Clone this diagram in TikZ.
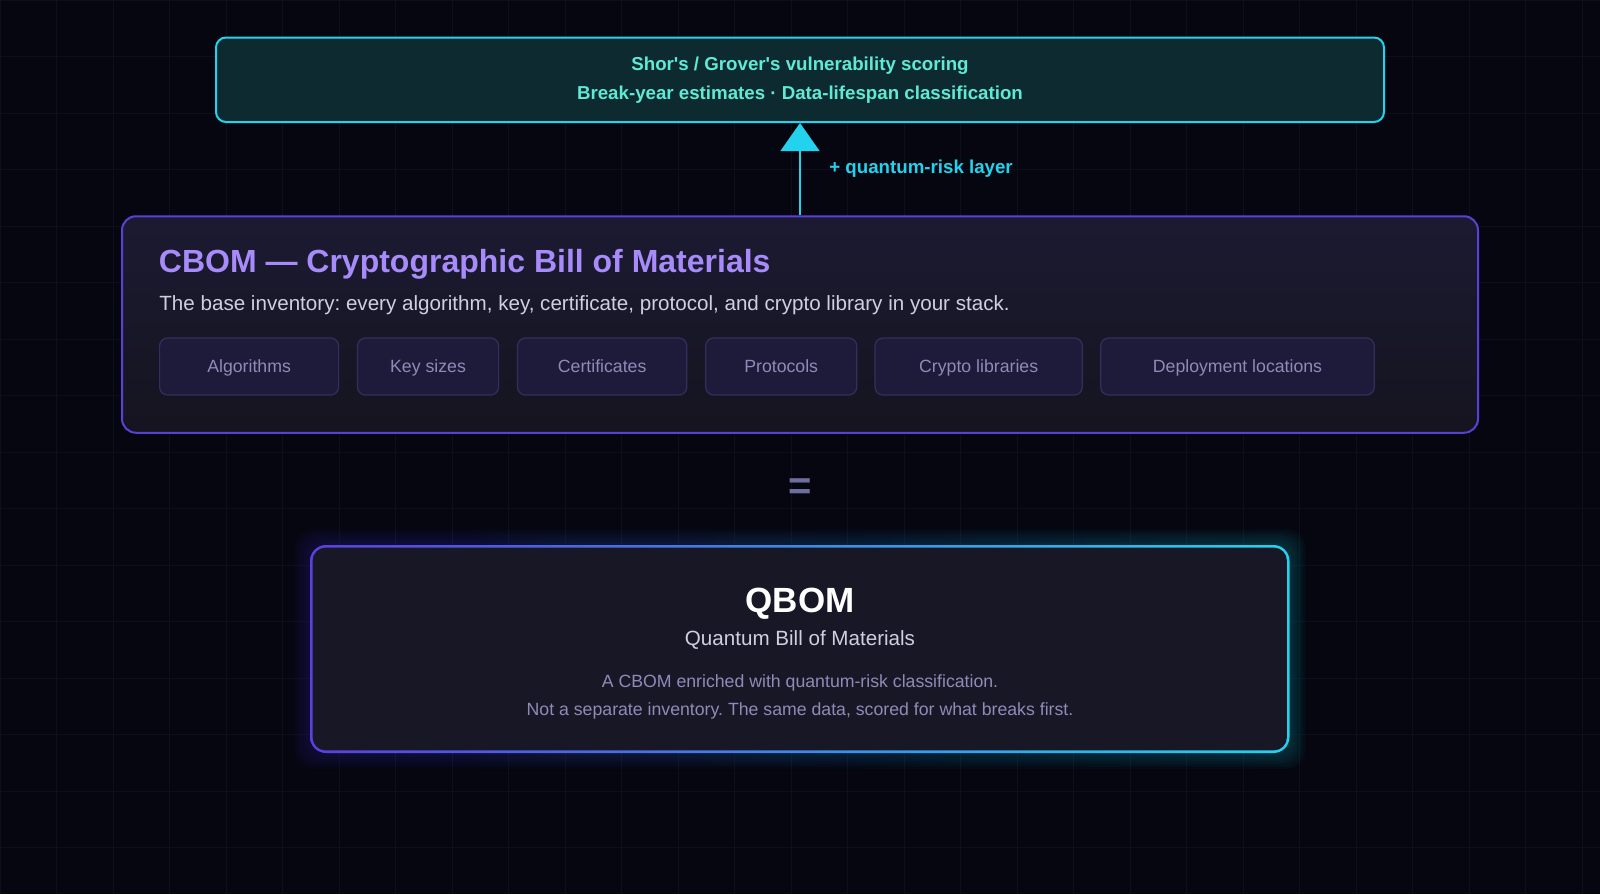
\documentclass[tikz,border=0pt]{standalone}
\usepackage{fontspec}
\setmainfont{Liberation Sans}
\usetikzlibrary{arrows.meta,positioning}
\frenchspacing

\definecolor{bgdark}{HTML}{05060F}
\definecolor{gridline}{HTML}{0D0F1C}
\definecolor{riskcyan}{HTML}{22D3EE}
\definecolor{riskfill}{HTML}{0E2A31}
\definecolor{risktext}{HTML}{5EEAD4}
\definecolor{cbomedge}{HTML}{5B3FD9}
\definecolor{cbomtop}{HTML}{1C1A32}
\definecolor{cbombot}{HTML}{15141F}
\definecolor{cbomtitle}{HTML}{A78BFA}
\definecolor{softtext}{HTML}{CFCFE0}
\definecolor{chipfill}{HTML}{1D1A3A}
\definecolor{chipedge}{HTML}{332F5C}
\definecolor{chiptext}{HTML}{8E8BB8}
\definecolor{eqgrey}{HTML}{6E6E9E}
\definecolor{qpurple}{HTML}{5B3FE0}
\definecolor{qfill}{HTML}{181726}

\newcommand{\riskfont}{\fontsize{9.35pt}{11pt}\selectfont\bfseries}
\newcommand{\cbomfont}{\fontsize{16pt}{19pt}\selectfont\bfseries}
\newcommand{\leadfont}{\fontsize{10.3pt}{12pt}\selectfont}
\newcommand{\chipfont}{\fontsize{8.85pt}{10.5pt}\selectfont}
\newcommand{\eqsfont}{\fontsize{20pt}{24pt}\selectfont\bfseries}
\newcommand{\qbomfont}{\fontsize{17.5pt}{21pt}\selectfont\bfseries}

\tikzset{
  riskbox/.style={draw=riskcyan, line width=1pt, fill=riskfill, rounded corners=5pt,
    minimum width=584pt, minimum height=42.25pt, inner sep=0pt},
  risklabel/.style={text=risktext, font=\riskfont, inner sep=0pt, anchor=base},
  riskarrow/.style={draw=riskcyan, line width=1.35pt, -{Triangle[width=19.3pt,length=14pt]}},
  cbombox/.style={draw=cbomedge, line width=1pt, top color=cbomtop, bottom color=cbombot,
    rounded corners=7pt, minimum width=678pt, minimum height=108.25pt, inner sep=0pt},
  chip/.style={draw=chipedge, line width=0.6pt, fill=chipfill, rounded corners=4pt,
    minimum height=28.5pt, inner sep=0pt, text=chiptext, font=\chipfont,
    text height=6.4pt, text depth=0pt},
  qbomedge/.style={left color=qpurple, right color=riskcyan, rounded corners=8pt,
    minimum width=489.75pt, minimum height=104pt, inner sep=0pt}
}

\begin{document}
\begin{tikzpicture}[x=0.5pt, y=-0.5pt]
\useasboundingbox (0,0) rectangle (1600,894);
\fill[bgdark] (0,0) rectangle (1600,894);
\foreach \gx in {0,...,28}
  \draw[gridline, line width=0.5pt] ({\gx*56.5},0) -- ({\gx*56.5},894);
\foreach \gy in {0,...,15}
  \draw[gridline, line width=0.5pt] (0,{\gy*56.5}) -- (1600,{\gy*56.5});

% quantum-risk layer
\node[riskbox] (risk) at (800,79.75) {};
\node[risklabel] (shor) at (800,70.7) {Shor\textquotesingle s / Grover\textquotesingle s vulnerability scoring};
\node[risklabel] (breakyear) at (800,99) {Break-year estimates · Data-lifespan classification};

% CBOM
\node[cbombox] (cbom) at (800,324.5) {};
\draw[riskarrow] (cbom.north) -- (risk.south)
  node[midway, right=14pt, inner sep=0pt, text=riskcyan, font=\riskfont] (layer) {+ quantum-risk layer};
\node[text=cbomtitle, font=\cbomfont, inner sep=0pt, anchor=base west] (cbomtitle) at (158.5,272.3)
  {CBOM — Cryptographic Bill of Materials};
\node[text=softtext, font=\leadfont, inner sep=0pt, anchor=base west] (cbomlead) at (159,310.7)
  {The base inventory: every algorithm, key, certificate, protocol, and crypto library in your stack.};
\foreach \l/\r/\txt [count=\i] in {159.6/338.6/Algorithms, 357.5/498.6/Key sizes,
    517.5/686.8/Certificates, 705.7/856.7/Protocols, 875/1082.3/Crypto libraries,
    1100.7/1374.3/Deployment locations}
  \node[chip, minimum width={0.5pt*(\r-\l)}] (chip\i) at ({(\l+\r)/2},366.5) {\txt};

\node[text=eqgrey, font=\eqsfont, inner sep=0pt] (equals) at (800,489) {=};

% QBOM
\foreach \g in {1,...,8}
  \fill[left color=qpurple, right color=riskcyan, opacity=0.035, rounded corners=9pt]
    ({310-\g*2},{545-\g*2}) rectangle ({1289.5+\g*2},{753+\g*2});
\node[qbomedge] (qbom) at (799.75,649) {};
\fill[qfill, rounded corners=6.5pt] ([shift={(1.5pt,-1.5pt)}]qbom.north west)
  rectangle ([shift={(-1.5pt,1.5pt)}]qbom.south east);
\node[text=white, font=\qbomfont, inner sep=0pt, anchor=base] (qbomtitle) at (800,612.3) {QBOM};
\node[text=softtext, font=\leadfont, inner sep=0pt, anchor=base] (qbomsub) at (800,645) {Quantum Bill of Materials};
\node[text=chiptext, font=\chipfont, inner sep=0pt, anchor=base] (qline1) at (800,687.3)
  {A CBOM enriched with quantum-risk classification.};
\node[text=chiptext, font=\chipfont, inner sep=0pt, anchor=base] (qline2) at (800,715.3)
  {Not a separate inventory. The same data, scored for what breaks first.};
\end{tikzpicture}
\end{document}
